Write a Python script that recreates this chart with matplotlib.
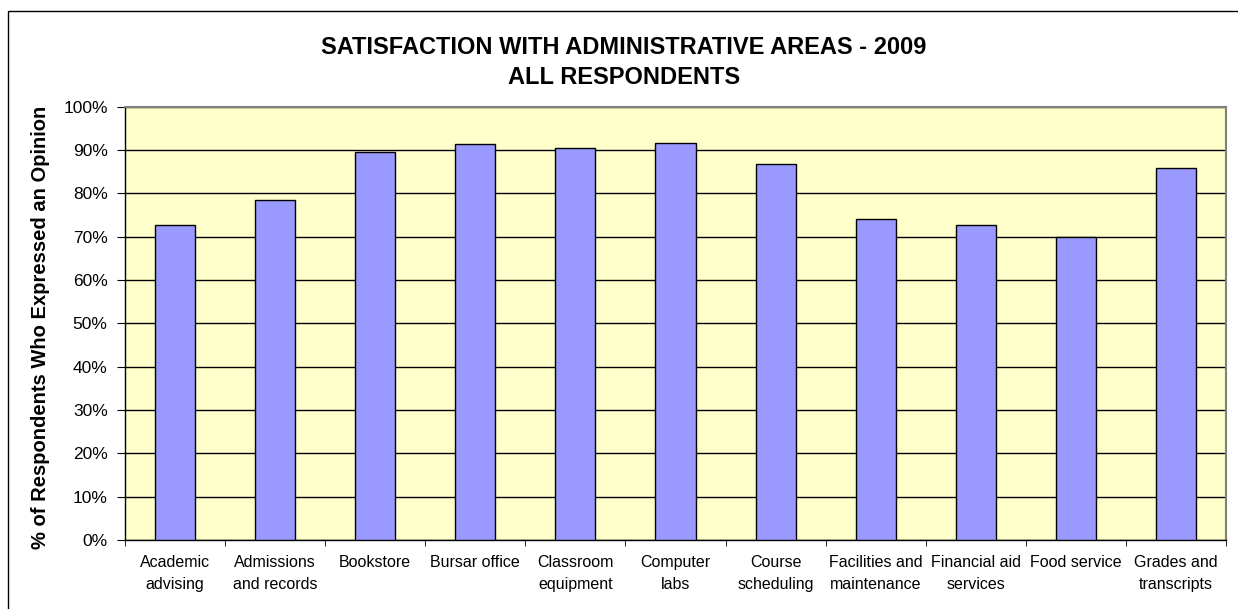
import matplotlib
matplotlib.use("Agg")
import matplotlib.pyplot as plt
from matplotlib.patches import Rectangle
from matplotlib.ticker import FixedLocator, FuncFormatter

plt.rcParams['font.family'] = ['Liberation Sans', 'DejaVu Sans']

categories = [
    "Academic\nadvising", "Admissions\nand records", "Bookstore", "Bursar office",
    "Classroom\nequipment", "Computer\nlabs", "Course\nscheduling",
    "Facilities and\nmaintenance", "Financial aid\nservices", "Food service",
    "Grades and\ntranscripts",
]
satisfaction = [72.6, 78.5, 89.5, 91.3, 90.5, 91.6, 86.8, 74.1, 72.6, 69.9, 85.8]
y_ticks = list(range(0, 101, 10))

W, H = 1238, 609
fig = plt.figure(figsize=(W / 100, H / 100), dpi=100)
fig.patch.set_facecolor("white")

# chart-area frame
fig.patches.append(Rectangle((8 / W, -0.05), 1.2, (H - 11) / H + 0.05,
                             transform=fig.transFigure, fill=False,
                             edgecolor="black", linewidth=1.0, zorder=0))

ax = fig.add_axes([125 / W, (H - 540) / H, (1226 - 125) / W, (540 - 106.7) / H])
ax.set_facecolor("#FFFFCC")

x = list(range(len(categories)))
ax.bar(x, satisfaction, width=0.4, color="#9999FF", edgecolor="black",
       linewidth=1.0, zorder=3)

ax.set_xlim(-0.5, len(categories) - 0.5)
ax.set_ylim(0, 100)
ax.set_yticks(y_ticks)
ax.yaxis.set_major_formatter(FuncFormatter(lambda v, p: f"{int(v)}%"))
ax.yaxis.grid(True, color="black", linewidth=1.0, zorder=1)
ax.set_axisbelow(True)

# category labels centred under bars, ticks on category boundaries
ax.set_xticks(x)
ax.set_xticklabels(categories, fontsize=11.5, linespacing=1.6)
ax.tick_params(axis="x", length=0, pad=11)
ax.xaxis.set_minor_locator(FixedLocator([i - 0.5 for i in range(len(categories) + 1)]))
ax.tick_params(axis="x", which="minor", length=4, direction="out", color="black")
ax.tick_params(axis="y", length=6, direction="out", color="black",
               labelsize=12.5, pad=6.5)

for side in ("left", "bottom"):
    ax.spines[side].set_color("black")
    ax.spines[side].set_linewidth(1.0)
for side in ("top", "right"):
    ax.spines[side].set_color("#808080")
    ax.spines[side].set_linewidth(1.5)

fig.text(41 / W, 1 - 327 / H, "% of Respondents Who Expressed an Opinion",
         rotation=90, ha="center", va="center", fontsize=14.5, fontweight="bold")

fig.text(624 / W, 1 - 48 / H, "SATISFACTION WITH ADMINISTRATIVE AREAS - 2009",
         ha="center", va="center", fontsize=17, fontweight="bold")
fig.text(624 / W, 1 - 78 / H, "ALL RESPONDENTS",
         ha="center", va="center", fontsize=17, fontweight="bold")

fig.savefig("out.png", dpi=100)
